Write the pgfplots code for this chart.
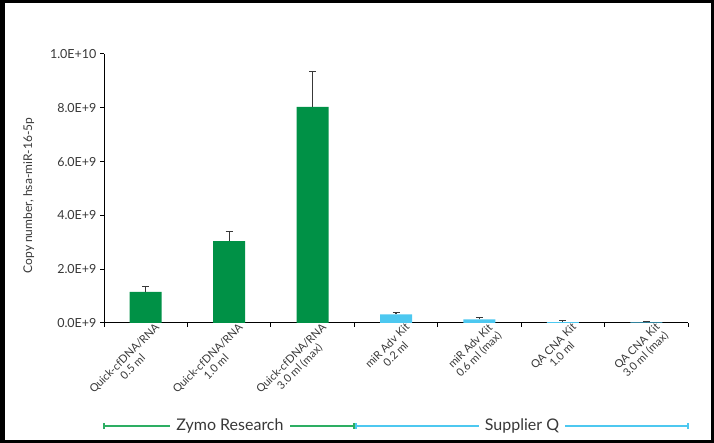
\documentclass[border=0pt]{standalone}
\usepackage{pgfplots}
\pgfplotsset{compat=1.18}
\usepackage{fontspec}
\setmainfont{Lato}
\definecolor{zgreen}{HTML}{009146}
\definecolor{qblue}{HTML}{4DC8F0}
\definecolor{lgreen}{HTML}{2DAE63}
\definecolor{txt}{HTML}{383838}

\begin{document}
\begin{tikzpicture}
  \useasboundingbox (0pt,0pt) rectangle (714pt,443pt);
  \draw[line width=3pt] (1.5pt,1.5pt) rectangle (712.5pt,441.5pt);
  \draw[line width=2pt] (3.5pt,0pt) -- (3.5pt,443pt);

  \begin{axis}[
    at={(104pt,120pt)}, anchor=south west,
    scale only axis, width=584pt, height=269pt,
    axis x line*=bottom, axis y line*=left,
    axis line style={black, line width=1pt},
    xmin=-0.5, xmax=6.5, ymin=0, ymax=1e10,
    tick align=outside, major tick length=4pt,
    tick style={black, line width=1pt},
    xtick={-0.5,0.5,...,6.5}, xticklabels={},
    extra x ticks={0,1,2,3,4,5,6},
    extra x tick labels={
      {Quick-cfDNA/RNA\\0.5 ml},
      {Quick-cfDNA/RNA\\1.0 ml},
      {Quick-cfDNA/RNA\\3.0 ml (max)},
      {miR Adv Kit\\0.2 ml},
      {miR Adv Kit\\0.6 ml (max)},
      {QA CNA Kit\\1.0 ml},
      {QA CNA Kit\\3.0 ml (max)}},
    extra x tick style={major tick length=0pt,
      tick label style={rotate=45, anchor=north east, align=center,
        font=\fontsize{11}{12}\selectfont, text=txt, xshift=10pt, yshift=-2pt}},
    ytick={0,2e9,4e9,6e9,8e9,1e10},
    yticklabels={0.0E+9,2.0E+9,4.0E+9,6.0E+9,8.0E+9,1.0E+10},
    yticklabel style={font=\fontsize{12.5}{13}\selectfont, text=txt},
    scaled y ticks=false,
    ylabel={Copy number, hsa-miR-16-5p},
    ylabel style={font=\fontsize{12}{13}\selectfont, text=txt, yshift=9pt, xshift=-7pt},
    ybar, bar width=32pt, bar shift=0pt,
    clip=false,
  ]
    \addplot[fill=zgreen, draw=none,
      error bars/.cd, y dir=plus, y explicit,
      error bar style={line width=1.2pt, color=txt},
      error mark options={rotate=90, mark size=3.5pt, line width=1.2pt, color=txt}]
      table[x=x, y=y, y error=e] {
        x y e
        0 1.16e9 0.20e9
        1 3.04e9 0.35e9
        2 8.03e9 1.31e9
      };
    \addplot[fill=qblue, draw=none,
      error bars/.cd, y dir=plus, y explicit,
      error bar style={line width=1.2pt, color=txt},
      error mark options={rotate=90, mark size=3.5pt, line width=1.2pt, color=txt}]
      table[x=x, y=y, y error=e] {
        x y e
        3 0.32e9 0.08e9
        4 0.13e9 0.08e9
        5 0.03e9 0.06e9
        6 0.02e9 0.04e9
      };
  \end{axis}

  % group brackets below the category labels
  \draw[lgreen, line width=1.3pt] (104pt,17pt) -- (354pt,17pt);
  \draw[lgreen, line width=1.3pt] (104pt,14pt) -- (104pt,20pt);
  \draw[lgreen, line width=1.3pt] (354pt,14pt) -- (354pt,20pt);
  \draw[qblue, line width=1.3pt] (356pt,17pt) -- (688pt,17pt);
  \draw[qblue, line width=1.3pt] (356pt,14pt) -- (356pt,20pt);
  \draw[qblue, line width=1.3pt] (688pt,14pt) -- (688pt,20pt);
  \node[fill=white, text=txt, font=\fontsize{16}{17}\selectfont, inner xsep=6pt]
    at (230pt,17pt) {Zymo Research};
  \node[fill=white, text=txt, font=\fontsize{16}{17}\selectfont, inner xsep=6pt]
    at (522pt,17pt) {Supplier Q};
\end{tikzpicture}
\end{document}
